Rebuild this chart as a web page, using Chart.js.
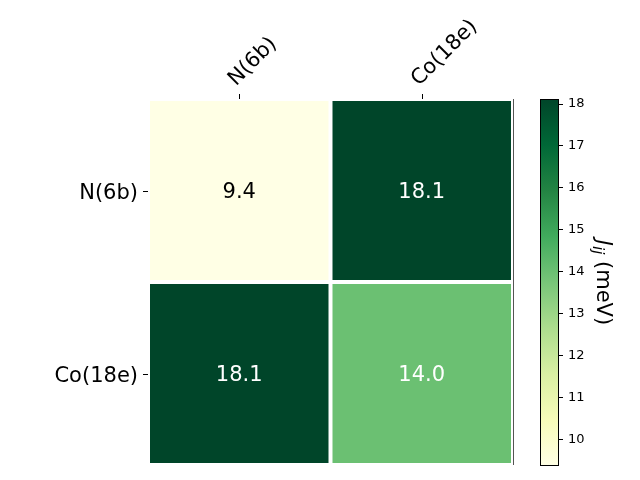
<!DOCTYPE html>
<html><head><meta charset="utf-8">
<script src="https://cdn.jsdelivr.net/npm/chart.js@4"></script>
<style>body{margin:0;background:#fff}#wrap{position:relative;width:640px;height:480px}canvas{position:absolute;left:0;top:0}</style>
</head><body><div id="wrap"><canvas id="c1" width="640" height="480"></canvas><canvas id="c2" width="640" height="480"></canvas></div>
<script>
// ---- data ----
const xLabels = ['N(6b)', 'Co(18e)'];
const yLabels = ['N(6b)', 'Co(18e)'];
const rowN  = [9.36, 18.12];
const rowCo = [18.12, 14.0];
const cbTicks = [10, 11, 12, 13, 14, 15, 16, 17, 18];
const vmin = 9.36, vmax = 18.12;
const cbSymbol = 'J', cbSub = 'ij', cbUnit = ' (meV)';

// YlGn colormap stops
const ylgn = [[0,'#ffffe5'],[0.125,'#f7fcb9'],[0.25,'#d9f0a3'],[0.375,'#addd8e'],[0.5,'#78c679'],[0.625,'#41ab5d'],[0.75,'#238443'],[0.875,'#006837'],[1,'#004529']];
function hex(h){return [parseInt(h.slice(1,3),16),parseInt(h.slice(3,5),16),parseInt(h.slice(5,7),16)];}
function norm(v){return Math.max(0,Math.min(1,(v-vmin)/(vmax-vmin)));}
function cmap(v){
  const t = norm(v);
  for (let i=1;i<ylgn.length;i++){
    if (t<=ylgn[i][0]){
      const a=ylgn[i-1], b=ylgn[i], f=(t-a[0])/(b[0]-a[0]);
      const ca=hex(a[1]), cb=hex(b[1]);
      return 'rgb('+ca.map((c,k)=>Math.round(c+(cb[k]-c)*f)).join(',')+')';
    }
  }
  return ylgn[ylgn.length-1][1];
}

const rows = [rowN, rowCo];
const cells = [];
rows.forEach((r,i)=>r.forEach((v,j)=>cells.push({x:j, y:i, v:v})));

const FONT = 'DejaVu Sans';
const LBL = 21;

const heatPlugin = {
  id: 'heat',
  beforeDraw(chart){
    const ctx = chart.ctx;
    ctx.save(); ctx.fillStyle = '#fff'; ctx.fillRect(0,0,chart.width,chart.height); ctx.restore();
  },
  beforeDatasetsDraw(chart){
    const {ctx, scales:{x, y}} = chart;
    const gap = 2;
    ctx.save();
    chart.data.datasets[0].data.forEach(c=>{
      const x0 = x.getPixelForValue(c.x-0.5)+gap, x1 = x.getPixelForValue(c.x+0.5)-gap;
      const y0 = y.getPixelForValue(c.y-0.5)+gap, y1 = y.getPixelForValue(c.y+0.5)-gap;
      ctx.fillStyle = cmap(c.v);
      ctx.fillRect(x0, y0, x1-x0, y1-y0);
      ctx.fillStyle = norm(c.v) > 0.45 ? '#fff' : '#000';
      ctx.font = LBL+'px "'+FONT+'"';
      ctx.textAlign = 'center';
      ctx.textBaseline = 'alphabetic';
      ctx.fillText(c.v.toFixed(1), x.getPixelForValue(c.x), y.getPixelForValue(c.y)+0.3645*LBL);
    });
    ctx.restore();
  },
  afterDraw(chart){
    const {ctx, chartArea:ca, scales:{x, y}} = chart;
    ctx.save();
    // right spine
    ctx.strokeStyle = '#555'; ctx.lineWidth = 1;
    ctx.beginPath(); ctx.moveTo(Math.round(ca.right)+0.5, ca.top); ctx.lineTo(Math.round(ca.right)+0.5, ca.bottom); ctx.stroke();
    ctx.strokeStyle = '#000'; ctx.fillStyle = '#000';
    ctx.font = LBL+'px "'+FONT+'"';
    // x ticks + labels (top, rotated)
    xLabels.forEach((lab,j)=>{
      const px = Math.round(x.getPixelForValue(j))+0.5;
      ctx.beginPath(); ctx.moveTo(px, ca.top); ctx.lineTo(px, ca.top-5); ctx.stroke();
      ctx.save();
      ctx.translate(px, ca.top-9);
      ctx.rotate(-Math.PI/4);
      ctx.textAlign = 'left'; ctx.textBaseline = 'bottom';
      ctx.fillText(lab, 0, 0);
      ctx.restore();
    });
    // y ticks + labels (left)
    yLabels.forEach((lab,i)=>{
      const py = Math.round(y.getPixelForValue(i))+0.5;
      ctx.beginPath(); ctx.moveTo(ca.left, py); ctx.lineTo(ca.left-5, py); ctx.stroke();
      ctx.textAlign = 'right'; ctx.textBaseline = 'alphabetic';
      ctx.fillText(lab, ca.left-10, py+0.3645*LBL);
    });
    ctx.restore();
  }
};

new Chart(document.getElementById('c1'), {
  type: 'scatter',
  data: { datasets: [{ data: cells, pointRadius: 0, pointHoverRadius: 0 }] },
  options: {
    responsive: false, animation: false, events: [],
    layout: { padding: { left: 0, top: 0, right: 127, bottom: 15 } },
    plugins: { legend: { display: false }, tooltip: { enabled: false } },
    scales: {
      x: { type: 'linear', position: 'top', min: -0.5, max: 1.5,
           afterFit(s){ s.height = 99; },
           ticks: { display: false }, grid: { display: false }, border: { display: false } },
      y: { type: 'linear', reverse: true, min: -0.5, max: 1.5,
           afterFit(s){ s.width = 148; },
           ticks: { display: false }, grid: { display: false }, border: { display: false } }
    }
  },
  plugins: [heatPlugin]
});

const cbPlugin = {
  id: 'cbar',
  beforeDatasetsDraw(chart){
    const {ctx, chartArea:ca, scales:{y}} = chart;
    ctx.save();
    const g = ctx.createLinearGradient(0, y.getPixelForValue(vmin), 0, y.getPixelForValue(vmax));
    ylgn.forEach(s=>g.addColorStop(s[0], s[1]));
    ctx.fillStyle = g;
    ctx.fillRect(ca.left, ca.top, ca.right-ca.left, ca.bottom-ca.top);
    ctx.strokeStyle = '#000'; ctx.lineWidth = 1;
    ctx.strokeRect(ca.left+0.5, ca.top+0.5, ca.right-ca.left-1, ca.bottom-ca.top-1);
    // title
    const cy = (ca.top+ca.bottom)/2;
    const fs = 21, fsub = 15;
    ctx.font = 'italic '+fs+'px "'+FONT+'"';
    const wJ = ctx.measureText(cbSymbol).width;
    ctx.font = 'italic '+fsub+'px "'+FONT+'"';
    const wS = ctx.measureText(cbSub).width;
    ctx.font = fs+'px "'+FONT+'"';
    const wU = ctx.measureText(cbUnit).width;
    const total = wJ + wS + wU;
    ctx.translate(597, cy);
    ctx.rotate(Math.PI/2);
    ctx.fillStyle = '#000';
    ctx.textAlign = 'left'; ctx.textBaseline = 'alphabetic';
    let xx = -total/2;
    ctx.font = 'italic '+fs+'px "'+FONT+'"';
    ctx.fillText(cbSymbol, xx, 0); xx += wJ;
    ctx.font = 'italic '+fsub+'px "'+FONT+'"';
    ctx.fillText(cbSub, xx, 4); xx += wS;
    ctx.font = fs+'px "'+FONT+'"';
    ctx.fillText(cbUnit, xx, 0);
    ctx.restore();
  }
};

new Chart(document.getElementById('c2'), {
  type: 'scatter',
  data: { datasets: [{ data: [], pointRadius: 0 }] },
  options: {
    responsive: false, animation: false, events: [],
    layout: { padding: { left: 540, top: 99, bottom: 14, right: 41 } },
    plugins: { legend: { display: false }, tooltip: { enabled: false } },
    scales: {
      x: { display: false, min: 0, max: 1 },
      y: { type: 'linear', position: 'right', min: vmin, max: vmax,
           afterBuildTicks(s){ s.ticks = cbTicks.map(v=>({value:v})); },
           afterFit(s){ s.width = 40; },
           ticks: { color: '#000', font: { family: FONT, size: 13 }, padding: 5 },
           grid: { drawOnChartArea: false, tickLength: 4, color: '#000' },
           border: { display: false } }
    }
  },
  plugins: [cbPlugin]
});
</script></body></html>
